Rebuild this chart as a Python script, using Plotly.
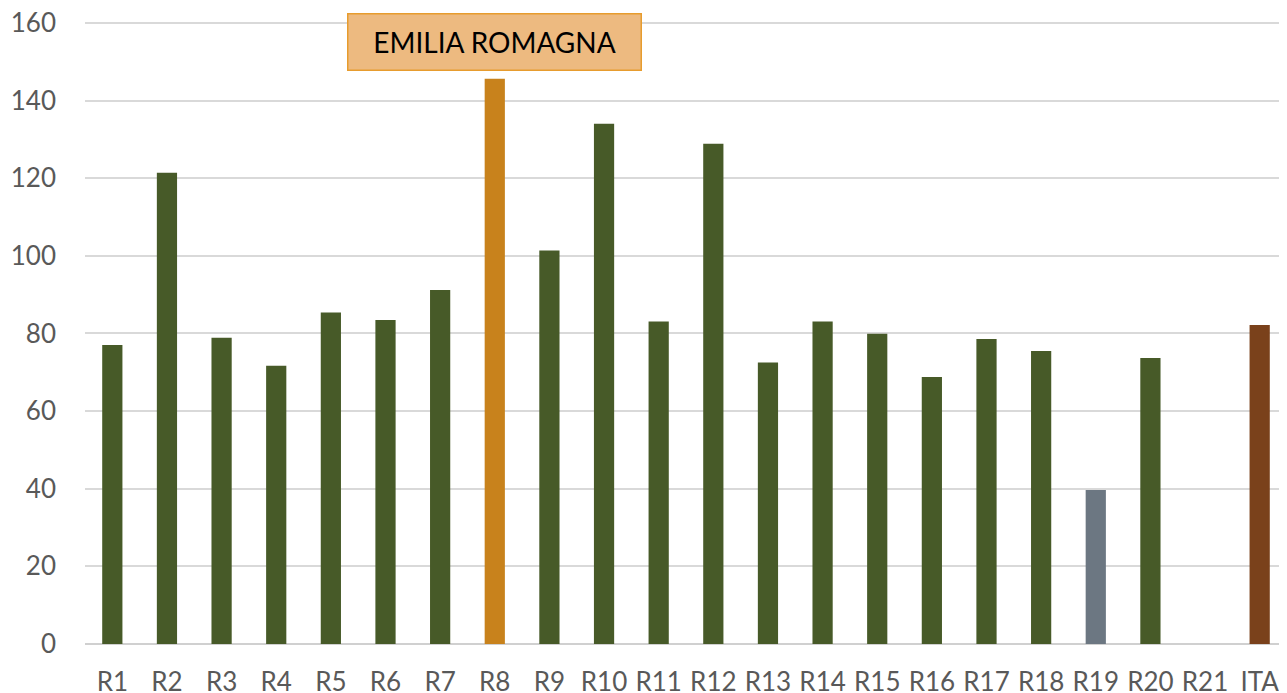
import plotly.graph_objects as go

categories = ["R1", "R2", "R3", "R4", "R5", "R6", "R7", "R8", "R9", "R10", "R11",
              "R12", "R13", "R14", "R15", "R16", "R17", "R18", "R19", "R20", "R21", "ITA"]
values = [77, 121.4, 78.9, 71.7, 85.4, 83.5, 91.2, 145.6, 101.4, 134, 83.1,
          128.9, 72.5, 83.1, 79.9, 68.8, 78.6, 75.5, 39.7, 73.7, None, 82.2]
bar_colors = ["#475A28"] * 7 + ["#C8821C"] + ["#475A28"] * 10 + ["#6C7782", "#475A28", "#475A28", "#7A411B"]
y_ticks = [0, 20, 40, 60, 80, 100, 120, 140, 160]
highlight_label = "EMILIA ROMAGNA"
highlight_cat = "R8"

fig = go.Figure(go.Bar(x=categories, y=values, marker=dict(color=bar_colors, line=dict(width=0)),
                       hoverinfo="x+y"))

fig.add_annotation(x=highlight_cat, y=155.2, xref="x", yref="y", text=highlight_label,
                   showarrow=False, font=dict(family="Lato, sans-serif", size=28, color="#000000"),
                   bgcolor="#EDBA80", bordercolor="#E79C2E", borderwidth=1.5,
                   width=290, height=53, align="center")

# the page body adds an 8px offset, so the figure is sized 8px smaller
fig.update_layout(
    width=1279, height=685,
    margin=dict(l=77, r=0, t=13, b=49, autoexpand=False),
    plot_bgcolor="white", paper_bgcolor="white",
    bargap=0.63,
    showlegend=False,
    font=dict(family="Lato, sans-serif", size=26, color="#595959"),
)
fig.update_xaxes(type="category", showgrid=False, showline=False, ticks="", automargin=False,
                 ticklabeloverflow="allow",
                 ticklabelstandoff=20, tickfont=dict(size=26, color="#595959"))
fig.update_yaxes(range=[0, 160.5], tickvals=y_ticks, showgrid=True, gridcolor="#D9D9D9", gridwidth=1.5,
                 zeroline=True, zerolinecolor="#D0D0D0", zerolinewidth=2, showline=False, ticks="",
                 automargin=False, ticklabeloverflow="allow",
                 ticklabelstandoff=28, tickfont=dict(size=26, color="#595959"))

fig.write_html("out.html")
